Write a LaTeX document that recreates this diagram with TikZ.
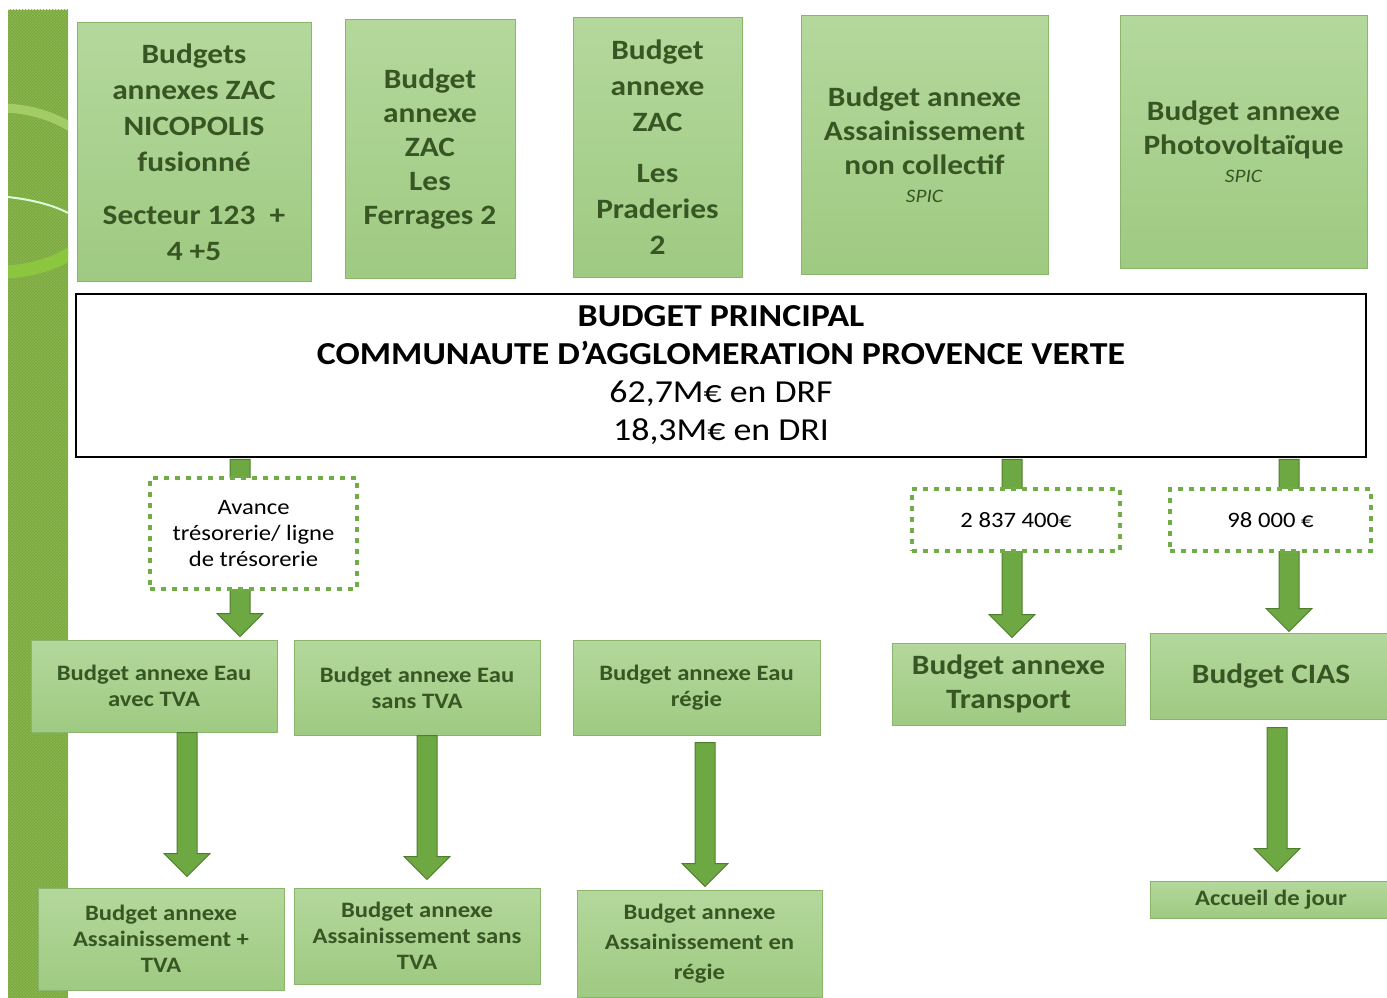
\documentclass[tikz,border=0pt]{standalone}
\usepackage{fontspec}
\setmainfont{Carlito}[FakeStretch=1.12]
\usetikzlibrary{calc,patterns}

\definecolor{boxtop}{HTML}{B4D89C}
\definecolor{boxbot}{HTML}{9FCA82}
\definecolor{boxline}{HTML}{8AB66C}
\definecolor{boxtext}{HTML}{375623}
\definecolor{arrfill}{HTML}{6EA843}
\definecolor{arrline}{HTML}{4F7D2F}
\definecolor{dotgreen}{HTML}{70AD47}
\definecolor{barbase}{HTML}{78A838}
\definecolor{lightband}{HTML}{A3CB66}
\definecolor{brightband}{HTML}{8CC63F}

\tikzset{
  gbox/.style={draw=boxline, line width=1pt, top color=boxtop, bottom color=boxbot,
    text=boxtext, align=center, inner sep=0pt, font=\bfseries},
  dotbox/.style={draw=dotgreen, line width=4.5pt, dash pattern=on 5pt off 6pt,
    fill=white, align=center, inner sep=0pt, font=\fontsize{22}{26}\selectfont},
  arrowshape/.style={draw=arrline, line width=1pt, fill=arrfill, line join=miter}
}

% block arrow: x position, start anchor, end anchor, start gap, end gap
\newcommand{\blockarr}[5]{%
  \path[arrowshape] let \p1=(#2), \p2=(#3) in
    (#1pt-10pt,\y1-#4pt) -- (#1pt-10pt,\y2+#5pt+23pt) -- (#1pt-23pt,\y2+#5pt+23pt)
    -- (#1pt,\y2+#5pt) -- (#1pt+23pt,\y2+#5pt+23pt) -- (#1pt+10pt,\y2+#5pt+23pt)
    -- (#1pt+10pt,\y1-#4pt) -- cycle;}

\begin{document}
\begin{tikzpicture}[x=1pt, y=-1pt]
\useasboundingbox (0,0) rectangle (1387,998);
\fill[white] (0,0) rectangle (1387,998);

% decorative side bar
\fill[barbase] (8,10) rectangle (68,998);
\fill[pattern=crosshatch, pattern color=barbase!85!white] (8,10) rectangle (68,998);
\begin{scope}
  \clip (8,10) rectangle (68,190);
  \draw[lightband, line width=9pt] (0,190) ellipse [x radius=110pt, y radius=82pt];
\end{scope}
\begin{scope}
  \clip (8,190) rectangle (68,998);
  \draw[brightband, line width=13pt] (0,192) ellipse [x radius=110pt, y radius=80pt];
\end{scope}
\draw[white!85!green, line width=2pt] (8,197) .. controls (35,200) and (55,206) .. (68,213);

% upper row of annex budgets
\node[gbox, minimum width=234pt, minimum height=258pt, font=\bfseries\fontsize{28}{36}\selectfont]
  (z1) at (194,152) {Budgets\\annexes ZAC\\NICOPOLIS\\fusionné\\[17pt]Secteur 123~~+\\4 +5};
\node[gbox, minimum width=170pt, minimum height=258pt, font=\bfseries\fontsize{28}{34}\selectfont]
  (z2) at (430,149) {Budget\\annexe\\ZAC\\Les\\Ferrages 2};
\node[gbox, minimum width=169pt, minimum height=259pt, font=\bfseries\fontsize{28}{36}\selectfont]
  (z3) at (657.5,147.5) {Budget\\annexe\\ZAC\\[15pt]Les\\Praderies\\2};
\node[gbox, minimum width=247pt, minimum height=258pt, font=\bfseries\fontsize{28}{34}\selectfont]
  (z4) at (924.5,145) {Budget annexe\\Assainissement\\non collectif\\[-6pt]{\normalfont\itshape\fontsize{19}{24}\selectfont SPIC}};
\node[gbox, minimum width=247pt, minimum height=252pt, font=\bfseries\fontsize{28}{34}\selectfont]
  (z5) at (1243.5,142) {Budget annexe\\Photovoltaïque\\[-6pt]{\normalfont\itshape\fontsize{19}{24}\selectfont SPIC}};

% main budget
\node[draw=black, line width=2.5pt, fill=white, minimum width=1290pt, minimum height=163pt,
  align=center, inner sep=0pt, font=\fontsize{32}{38}\selectfont]
  (bp) at (721,375.5) {\textbf{BUDGET PRINCIPAL}\\\textbf{COMMUNAUTE D’AGGLOMERATION PROVENCE VERTE}\\62,7M€ en DRF\\18,3M€ en DRI};

% middle row
\node[gbox, minimum width=246pt, minimum height=92pt, font=\bfseries\fontsize{22}{26}\selectfont]
  (e1) at (154,686) {Budget annexe Eau\\avec TVA};
\node[gbox, minimum width=246pt, minimum height=95pt, font=\bfseries\fontsize{22}{26}\selectfont]
  (e2) at (417,687.5) {Budget annexe Eau\\sans TVA};
\node[gbox, minimum width=247pt, minimum height=95pt, font=\bfseries\fontsize{22}{26}\selectfont]
  (e3) at (696.5,687.5) {Budget annexe Eau\\régie};
\node[gbox, minimum width=233pt, minimum height=82pt, font=\bfseries\fontsize{28}{34}\selectfont]
  (tr) at (1008.5,684) {Budget annexe\\Transport};
\node[gbox, minimum width=242pt, minimum height=86pt, font=\bfseries\fontsize{28}{34}\selectfont]
  (ci) at (1271,676) {Budget CIAS};

% lower row
\node[gbox, minimum width=246pt, minimum height=102pt, font=\bfseries\fontsize{22}{26}\selectfont]
  (a1) at (161,939) {Budget annexe\\Assainissement +\\TVA};
\node[gbox, minimum width=246pt, minimum height=96pt, font=\bfseries\fontsize{22}{26}\selectfont]
  (a2) at (417,936) {Budget annexe\\Assainissement sans\\TVA};
\node[gbox, minimum width=245pt, minimum height=107pt, font=\bfseries\fontsize{22}{30}\selectfont]
  (a3) at (699.5,943.5) {Budget annexe\\Assainissement en\\régie};
\node[gbox, minimum width=242pt, minimum height=37pt, font=\bfseries\fontsize{22}{26}\selectfont]
  (ac) at (1271,899.5) {Accueil de jour};

% flows
\blockarr{240}{bp.south}{e1.north}{1.2}{3}
\blockarr{1012}{bp.south}{tr.north}{1.2}{5}
\blockarr{1289}{bp.south}{ci.north}{1.2}{1}
\blockarr{187}{e1.south}{a1.north}{0}{11}
\blockarr{427}{e2.south}{a2.north}{0}{8}
\blockarr{705}{e3.south}{a3.north}{7}{3}
\blockarr{1277}{ci.south}{ac.north}{8}{9}

% amounts on the flows
\node[dotbox, minimum width=207pt, minimum height=111pt] (d1) at (253.5,533.5)
  {Avance\\trésorerie/ ligne\\de trésorerie};
\node[dotbox, minimum width=208pt, minimum height=62pt] (d2) at (1016,520) {2 837 400€};
\node[dotbox, minimum width=201pt, minimum height=62pt] (d3) at (1270.5,520) {98 000 €};
\end{tikzpicture}
\end{document}
